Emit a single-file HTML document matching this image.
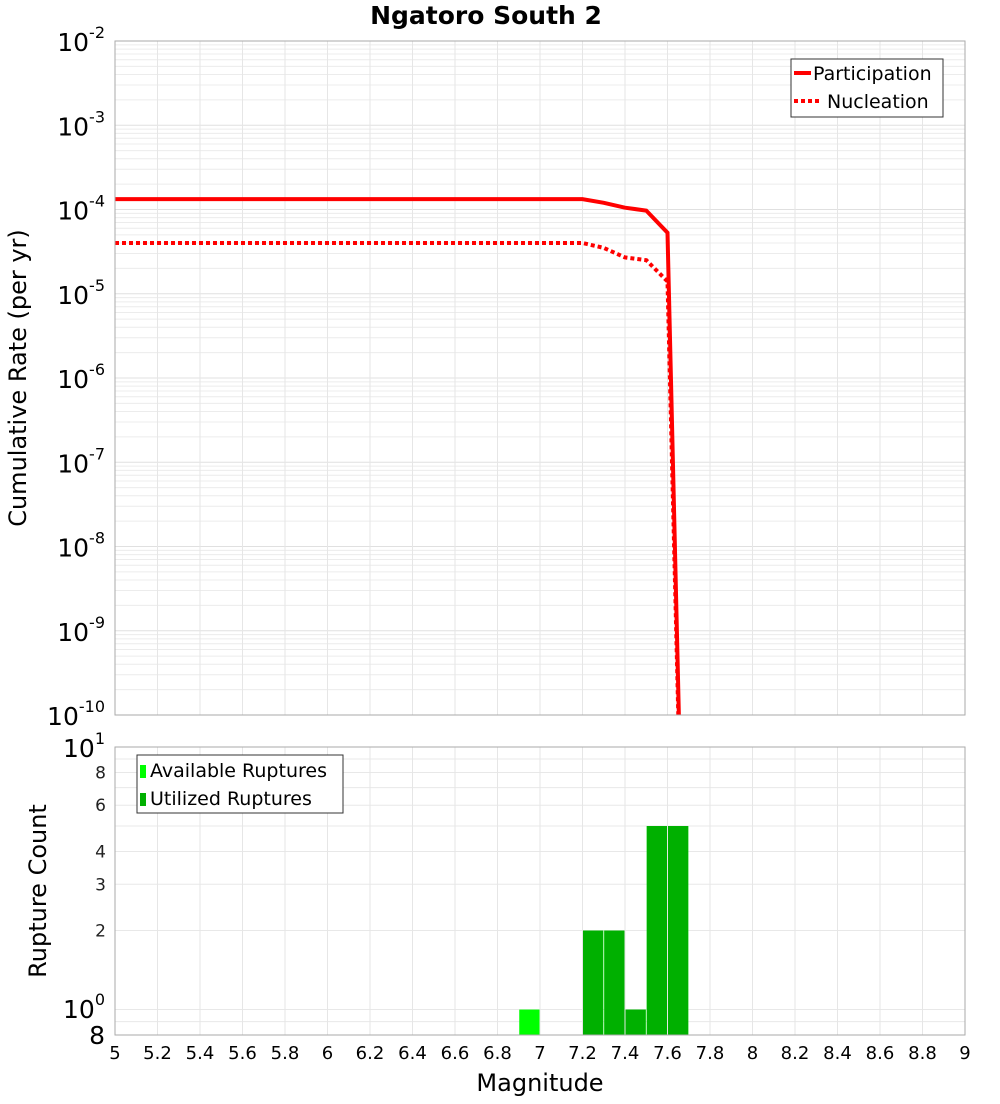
<!DOCTYPE html>
<html><head><meta charset="utf-8"><style>
body{margin:0;background:#fff;font-family:"DejaVu Sans","Liberation Sans",sans-serif;}
svg text{font-family:"DejaVu Sans","Liberation Sans",sans-serif;}
</style></head><body>
<svg id="c" width="1000" height="1100" xmlns="http://www.w3.org/2000/svg">
<text x="486" y="24" text-anchor="middle" font-size="25" font-weight="bold">Ngatoro South 2</text>
<g id="topPlot"></g>
<g id="botPlot"></g>
<text transform="translate(26,378) rotate(-90)" text-anchor="middle" font-size="24">Cumulative Rate (per yr)</text>
<text transform="translate(46,891) rotate(-90)" text-anchor="middle" font-size="24">Rupture Count</text>
<text x="540" y="1091" text-anchor="middle" font-size="24">Magnitude</text>
</svg>
<script>
const mags=[5,5.1,5.2,5.3,5.4,5.5,5.6,5.7,5.8,5.9,6,6.1,6.2,6.3,6.4,6.5,6.6,6.7,6.8,6.9,7,7.1,7.2,7.3,7.4,7.5,7.6,7.7];
const participation=[1.33e-4,1.33e-4,1.33e-4,1.33e-4,1.33e-4,1.33e-4,1.33e-4,1.33e-4,1.33e-4,1.33e-4,1.33e-4,1.33e-4,1.33e-4,1.33e-4,1.33e-4,1.33e-4,1.33e-4,1.33e-4,1.33e-4,1.33e-4,1.33e-4,1.33e-4,1.33e-4,1.2e-4,1.05e-4,9.7e-5,5.3e-5,1e-15];
const nucleation=[4.0e-5,4.0e-5,4.0e-5,4.0e-5,4.0e-5,4.0e-5,4.0e-5,4.0e-5,4.0e-5,4.0e-5,4.0e-5,4.0e-5,4.0e-5,4.0e-5,4.0e-5,4.0e-5,4.0e-5,4.0e-5,4.0e-5,4.0e-5,4.0e-5,4.0e-5,4.0e-5,3.5e-5,2.7e-5,2.5e-5,1.4e-5,1e-15];
const barMags=[6.95,7.25,7.35,7.45,7.55,7.65];
const available=[1,2,2,1,5,5];
const utilized=[0,2,2,1,5,5];
const xTicks=[5,5.2,5.4,5.6,5.8,6,6.2,6.4,6.6,6.8,7,7.2,7.4,7.6,7.8,8,8.2,8.4,8.6,8.8,9];
const rateExps=[-2,-3,-4,-5,-6,-7,-8,-9,-10];
const countTicks=[2,3,4,6,8];

(function(){
const NS="http://www.w3.org/2000/svg";
const X0=115,X1=965,T0=41,T1=715,B0=747,B1=1035;
const x=m=>X0+(m-5)/4*(X1-X0);
const yT=v=>T0+(-2-Math.log10(v))*(T1-T0)/8;
const yB=v=>B0+(1-Math.log10(v))*(B1-B0)/(1-Math.log10(0.8));
function el(p,t,a){const e=document.createElementNS(NS,t);for(const k in a)e.setAttribute(k,a[k]);p.appendChild(e);return e;}
const tp=document.getElementById('topPlot'),bt=document.getElementById('botPlot'),svg=document.getElementById('c');
const defs=el(svg,'defs',{});
const cp=el(defs,'clipPath',{id:'ct'});el(cp,'rect',{x:X0,y:T0,width:X1-X0,height:T1-T0});

for(let d=-10;d<-2;d++)for(let k=1;k<10;k++){const v=k*Math.pow(10,d);const yy=yT(v);
 const g=el(tp,'line',{x1:X0,x2:X1,y1:yy,y2:yy,stroke:k==1?'#e0e0e0':'#ececec','stroke-width':1});
 }
xTicks.forEach(m=>{const g=el(tp,'line',{x1:x(m),x2:x(m),y1:T0,y2:T1,stroke:'#e6e6e6'});
 });
for(let v=1;v<=10;v++){const g=el(bt,'line',{x1:X0,x2:X1,y1:yB(v),y2:yB(v),stroke:'#e8e8e8'});
 }
{const g=el(bt,'line',{x1:X0,x2:X1,y1:yB(0.9),y2:yB(0.9),stroke:'#e8e8e8'});}
xTicks.forEach(m=>{const g=el(bt,'line',{x1:x(m),x2:x(m),y1:B0,y2:B1,stroke:'#e6e6e6'});
 });

function line(vals,dash,name){const pts=mags.map((m,i)=>x(m).toFixed(1)+','+yT(vals[i]).toFixed(1)).join(' ');
 const a={points:pts,fill:'none',stroke:'#ff0000','stroke-width':4,'clip-path':'url(#ct)'};if(dash)a['stroke-dasharray']=dash;
 const p=el(tp,'polyline',a);}
line(nucleation,'4,3','nucleation-line');
line(participation,null,'participation-line');

const bw=(x(5.1)-x(5))-1;
barMags.forEach((m,i)=>{
 if(available[i]>0){const r=el(bt,'rect',{x:x(m)-bw/2,y:yB(available[i]),width:bw,height:B1-yB(available[i]),fill:'#00ff00'});
  }
 if(utilized[i]>0){const r=el(bt,'rect',{x:x(m)-bw/2,y:yB(utilized[i]),width:bw,height:B1-yB(utilized[i]),fill:'#00b000'});
  }
});

{const f=el(tp,'rect',{x:X0,y:T0,width:X1-X0,height:T1-T0,fill:'none',stroke:'#aaa'});}
{const f=el(bt,'rect',{x:X0,y:B0,width:X1-X0,height:B1-B0,fill:'none',stroke:'#aaa'});}

rateExps.forEach(e=>{const yy=yT(Math.pow(10,e));const t=el(tp,'text',{x:105,y:yy+10,'text-anchor':'end','font-size':25});
 
 t.textContent='10';const s=el(t,'tspan',{dy:-13,'font-size':16});s.textContent=String(e);});
{const t=el(bt,'text',{x:105,y:757,'text-anchor':'end','font-size':25});
 t.textContent='10';const s=el(t,'tspan',{dy:-13,'font-size':16});s.textContent='1';}
{const t=el(bt,'text',{x:105,y:1018,'text-anchor':'end','font-size':25});
 t.textContent='10';const s=el(t,'tspan',{dy:-13,'font-size':16});s.textContent='0';}
{const t=el(bt,'text',{x:105,y:1044,'text-anchor':'end','font-size':25});t.textContent='8';}
countTicks.forEach(v=>{const t=el(bt,'text',{x:106,y:yB(v)+6,'text-anchor':'end','font-size':17,fill:'#222'});
 t.textContent=String(v);});
xTicks.forEach(m=>{const t=el(bt,'text',{x:x(m),y:1059,'text-anchor':'middle','font-size':18});
 t.textContent=String(m);});

{const g=el(tp,'g',{});
 el(g,'rect',{x:791,y:59,width:152,height:58,fill:'#fff',stroke:'#333'});
 el(g,'line',{x1:794,x2:811,y1:73,y2:73,stroke:'#f00','stroke-width':4});
 el(g,'line',{x1:794,x2:822,y1:101,y2:101,stroke:'#f00','stroke-width':4,'stroke-dasharray':'4,3'});
 const a=el(g,'text',{x:813,y:80,'font-size':19});a.textContent='Participation';
 const b=el(g,'text',{x:827,y:108,'font-size':19});b.textContent='Nucleation';}
{const g=el(bt,'g',{});
 el(g,'rect',{x:137,y:755,width:206,height:58,fill:'#fff',stroke:'#333'});
 el(g,'rect',{x:140,y:765,width:6,height:13,fill:'#00ff00'});
 el(g,'rect',{x:140,y:793,width:6,height:13,fill:'#00b000'});
 const a=el(g,'text',{x:150,y:777,'font-size':19});a.textContent='Available Ruptures';
 const b=el(g,'text',{x:150,y:805,'font-size':19});b.textContent='Utilized Ruptures';}
})();
</script>
</body></html>
